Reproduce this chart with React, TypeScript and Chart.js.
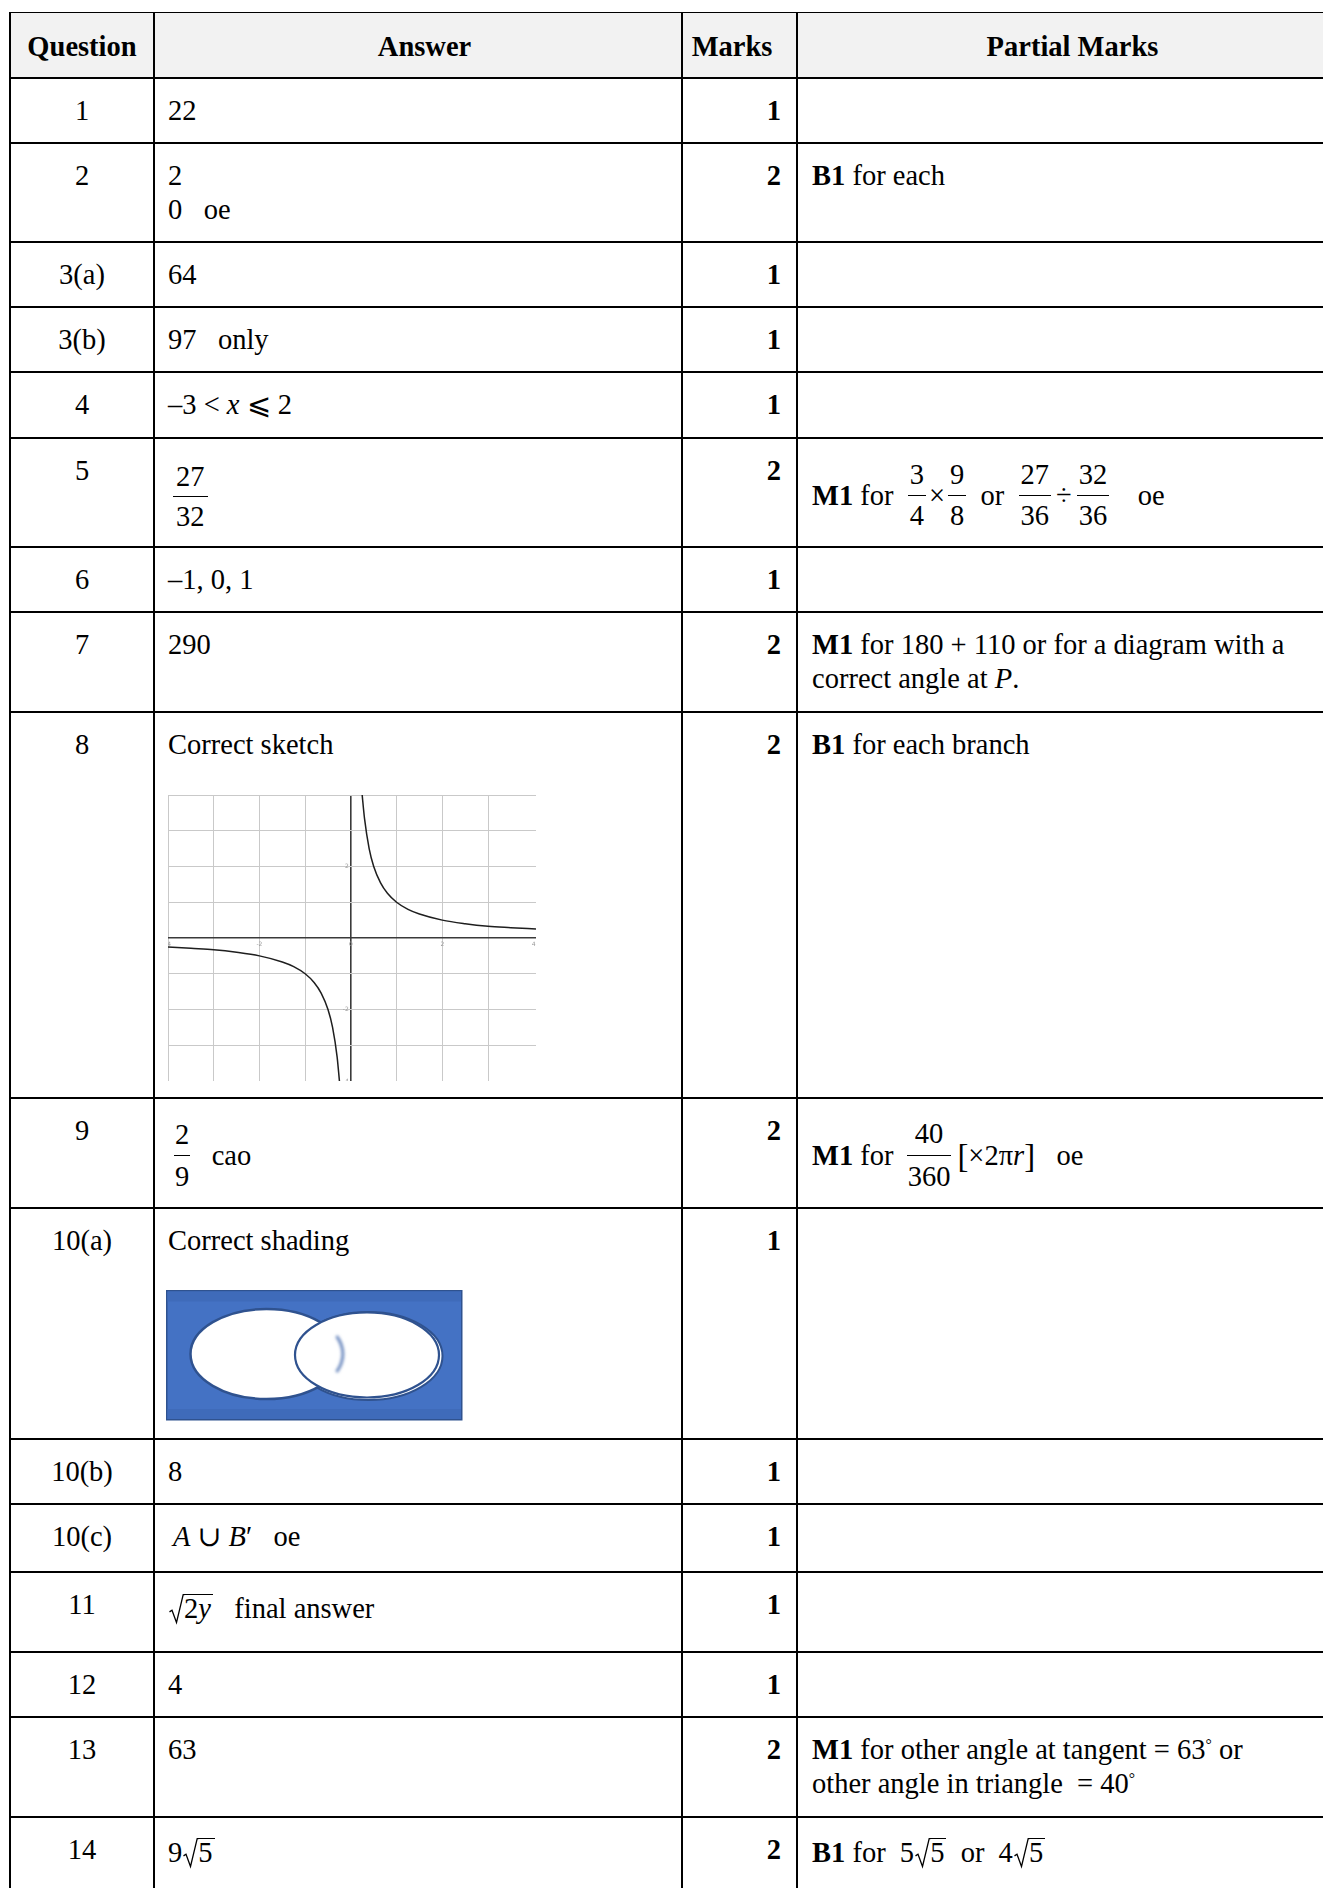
import React, { useEffect, useRef } from "react";
import { Chart, registerables } from "chart.js";

Chart.register(...registerables);

const FONT = '"Liberation Serif", "Times New Roman", "DejaVu Serif", serif';

// ---- table data ----
const headers = ["Question", "Answer", "Marks", "Partial Marks"];
const questions = ["1", "2", "3(a)", "3(b)", "4", "5", "6", "7", "8", "9", "10(a)", "10(b)", "10(c)", "11", "12", "13", "14"];
const marks = ["1", "2", "1", "1", "1", "2", "1", "2", "2", "2", "1", "1", "1", "1", "1", "2", "2"];

// ---- sketch (question 8) data ----
const rightBranchX = [0.24, 0.3, 0.4, 0.5, 0.65, 0.8, 1, 1.25, 1.5, 2, 2.5, 3, 3.5, 4.05];
const rightBranchY = [4.1, 3.33, 2.5, 2, 1.54, 1.25, 1, 0.8, 0.67, 0.5, 0.4, 0.33, 0.29, 0.25];
const leftBranchX = [-4, -3.5, -3, -2.5, -2, -1.5, -1.25, -1, -0.8, -0.65, -0.5, -0.4, -0.3, -0.25];
const leftBranchY = [-0.25, -0.29, -0.33, -0.4, -0.5, -0.67, -0.8, -1, -1.25, -1.54, -2, -2.5, -3.33, -4.0];
const xTickLabels = [-4, -2, 0, 2, 4];
const yTickLabels = [2, -2, -4];

// ---- layout ----
const ROW_LINES = [12, 77, 142, 241, 306, 371, 437, 546, 611, 711, 1097, 1207, 1438, 1503, 1571, 1651, 1716, 1816, 1940];
const COL_LINES = [9, 153, 681, 796, 1333];

function Frac({ n, d, lh = 38, pad = 2, inner = 2 }: any) {
  return (
    <span
      style={{
        display: "inline-flex",
        flexDirection: "column",
        alignItems: "center",
        verticalAlign: "middle",
        padding: `0 ${pad}px`,
      }}
    >
      <span style={{ lineHeight: lh + "px", padding: `0 ${inner}px` }}>{n}</span>
      <span style={{ alignSelf: "stretch", height: 1.4, background: "#000" }} />
      <span style={{ lineHeight: lh + "px", padding: `0 ${inner}px` }}>{d}</span>
    </span>
  );
}

function Sqrt({ children }: any) {
  return (
    <span
      style={{
        display: "inline-block",
        position: "relative",
        paddingLeft: 15,
        marginLeft: 1,
        lineHeight: "28px",
      }}
    >
      <svg
        width="15"
        style={{ position: "absolute", left: 0, top: 0, height: "100%", overflow: "visible" }}
        viewBox="0 0 15 30"
        preserveAspectRatio="none"
      >
        <path
          d="M0.5 18.5 L3 16.8 L7.5 29.5 L14.2 0.7 L15.5 0.7"
          fill="none"
          stroke="#000"
          strokeWidth="1.3"
          vectorEffect="non-scaling-stroke"
        />
      </svg>
      <span style={{ display: "inline-block", borderTop: "1.3px solid #000", paddingRight: 2, lineHeight: "28px" }}>
        {children}
      </span>
    </span>
  );
}

const Deg = () => (
  <span style={{ position: "relative", top: "-0.55em", fontSize: "0.55em", lineHeight: 0 }}>°</span>
);

const Op = ({ children, m = 3 }: any) => <span style={{ margin: `0 ${m}px` }}>{children}</span>;

const FlexRow = ({ children, mt = 0 }: any) => (
  <div style={{ display: "flex", alignItems: "center", whiteSpace: "pre", marginTop: mt }}>{children}</div>
);

const answers: any[] = [
  "22",
  <>
    2<br />
    {"0   oe"}
  </>,
  "64",
  "97   only",
  <>
    {"–3 < "}
    <i>x</i>
    {" ⩽ 2"}
  </>,
  <FlexRow mt={3}>
    <span style={{ width: 5 }} />
    <Frac n="27" d="32" lh={39} pad={0} inner={3} />
  </FlexRow>,
  "–1, 0, 1",
  "290",
  "Correct sketch",
  <FlexRow mt={0}>
    <span style={{ width: 6 }} />
    <Frac n="2" d="9" lh={41} pad={0} inner={1} />
    {"   cao"}
  </FlexRow>,
  "Correct shading",
  "8",
  <span style={{ paddingLeft: 5 }}>
    <i>A</i>
    {" ∪ "}
    <i>B</i>
    {"′   oe"}
  </span>,
  <span style={{ display: "inline-block", marginTop: 4 }}>
    <Sqrt>
      2<i>y</i>
    </Sqrt>
    {"   final answer"}
  </span>,
  "4",
  "63",
  <span style={{ display: "inline-block", marginTop: 3 }}>
    9<Sqrt>5</Sqrt>
  </span>,
];

const partials: any[] = [
  "",
  <>
    <b>B1</b>
    {" for each"}
  </>,
  "",
  "",
  "",
  <FlexRow mt={1}>
    <b>M1</b>
    {" for  "}
    <Frac n="3" d="4" lh={40} pad={0} inner={2} />
    <Op m={3}>×</Op>
    <Frac n="9" d="8" lh={40} pad={0} inner={2} />
    {"  or  "}
    <Frac n="27" d="36" lh={40} pad={0} inner={2} />
    <Op m={5}>÷</Op>
    <Frac n="32" d="36" lh={40} pad={0} inner={2} />
    {"    oe"}
  </FlexRow>,
  "",
  <>
    <b>M1</b>
    {" for 180 + 110 or for a diagram with a"}
    <br />
    {"correct angle at "}
    <i>P</i>.
  </>,
  <>
    <b>B1</b>
    {" for each branch"}
  </>,
  <FlexRow mt={-1}>
    <b>M1</b>
    {" for "}
    <Frac n="40" d="360" lh={42} pad={6} inner={1} />
    <span style={{ fontSize: "1.15em" }}>[</span>
    {"×2π"}
    <i>r</i>
    <span style={{ fontSize: "1.15em" }}>]</span>
    {"   oe"}
  </FlexRow>,
  "",
  "",
  "",
  "",
  "",
  <>
    <b>M1</b>
    {" for other angle at tangent = 63"}
    <Deg />
    {" or"}
    <br />
    {"other angle in triangle  = 40"}
    <Deg />
  </>,
  <span style={{ display: "inline-block", marginTop: 3 }}>
    <b>B1</b>
    {" for  5"}
    <Sqrt>5</Sqrt>
    {"  or  4"}
    <Sqrt>5</Sqrt>
  </span>,
];

function SketchChart() {
  const ref = useRef<HTMLCanvasElement | null>(null);
  useEffect(() => {
    if (!ref.current) return;
    const tickLabels = {
      id: "tinyTickLabels",
      afterDraw(chart: any) {
        const { ctx, scales } = chart;
        const xs = scales.x;
        const ys = scales.y;
        ctx.save();
        ctx.fillStyle = "#9a9a9a";
        ctx.font = "6px 'DejaVu Sans'";
        ctx.textAlign = "center";
        ctx.textBaseline = "top";
        const y0 = ys.getPixelForValue(0);
        const x0 = xs.getPixelForValue(0);
        xTickLabels.forEach((v) => {
          ctx.fillText(String(v), xs.getPixelForValue(v), y0 + 3);
        });
        ctx.textAlign = "right";
        ctx.textBaseline = "middle";
        yTickLabels.forEach((v) => {
          ctx.fillText(String(v), x0 - 2, ys.getPixelForValue(v));
        });
        ctx.restore();
      },
    };
    const gridColor = (c: any) => (c.tick && c.tick.value === 0 ? "#3a3a3a" : "#c9c9c9");
    const gridWidth = (c: any) => (c.tick && c.tick.value === 0 ? 1.6 : 1);
    const chart = new Chart(ref.current, {
      type: "scatter",
      data: {
        datasets: [
          {
            data: rightBranchX.map((x, i) => ({ x, y: rightBranchY[i] })),
            showLine: true,
            borderColor: "#1e1e1e",
            borderWidth: 1.5,
            pointRadius: 0,
            cubicInterpolationMode: "monotone",
            fill: false,
          },
          {
            data: leftBranchX.map((x, i) => ({ x, y: leftBranchY[i] })),
            showLine: true,
            borderColor: "#1e1e1e",
            borderWidth: 1.5,
            pointRadius: 0,
            cubicInterpolationMode: "monotone",
            fill: false,
          },
        ],
      },
      options: {
        animation: false,
        responsive: false,
        maintainAspectRatio: false,
        layout: { padding: 0 },
        plugins: { legend: { display: false }, tooltip: { enabled: false } },
        scales: {
          x: {
            type: "linear",
            min: -4,
            max: 4.05,
            ticks: { display: false, stepSize: 1 },
            grid: { color: gridColor, lineWidth: gridWidth, drawTicks: false },
            border: { display: false },
          },
          y: {
            type: "linear",
            min: -4,
            max: 4,
            ticks: { display: false, stepSize: 1 },
            grid: { color: gridColor, lineWidth: gridWidth, drawTicks: false },
            border: { display: false },
          },
        },
      } as any,
      plugins: [tickLabels],
    });
    return () => chart.destroy();
  }, []);
  return (
    <canvas
      ref={ref}
      width={368}
      height={286}
      style={{ position: "absolute", left: 167.5, top: 794.5, width: 368, height: 286 }}
    />
  );
}

function Venn() {
  const dark = "#2F528F";
  return (
    <svg
      width="297"
      height="131"
      viewBox="0 0 297 131"
      style={{ position: "absolute", left: 166, top: 1290 }}
    >
      <defs>
        <filter id="soft" x="-100%" y="-50%" width="300%" height="200%">
          <feGaussianBlur stdDeviation="1.6" />
        </filter>
      </defs>
      <rect x="0.75" y="0.75" width="295" height="129" fill="#4472C4" stroke={dark} strokeWidth="1.5" />
      <rect x="1.5" y="1.5" width="293.5" height="10" fill="#3f6bba" />
      <rect x="1.5" y="119" width="293.5" height="10" fill="#3f6bba" />
      <ellipse cx="202.5" cy="66" rx="74" ry="44" fill="#fff" stroke={dark} strokeWidth="2" />
      <ellipse cx="100.5" cy="64" rx="76" ry="45" fill="#fff" stroke={dark} strokeWidth="2.5" />
      <ellipse cx="201" cy="65" rx="72" ry="42.5" fill="#fff" stroke={dark} strokeWidth="2.2" />
      <path
        d="M170.5 46 A76 45 0 0 1 170.5 82"
        fill="none"
        stroke="#6f8cc0"
        strokeWidth="3"
        filter="url(#soft)"
      />
    </svg>
  );
}

export default function App() {
  const rowCount = ROW_LINES.length - 1;
  const cells: any[] = [];
  for (let r = 0; r < rowCount; r++) {
    const isHeader = r === 0;
    const top = ROW_LINES[r] + (isHeader ? 1 : 2);
    const height = ROW_LINES[r + 1] - top;
    for (let c = 0; c < 4; c++) {
      const left = COL_LINES[c] + 2;
      const width = COL_LINES[c + 1] - left;
      let content: any = null;
      if (isHeader) content = headers[c];
      else if (c === 0) content = questions[r - 1];
      else if (c === 1) content = answers[r - 1];
      else if (c === 2) content = marks[r - 1];
      else content = partials[r - 1];
      const align = isHeader || c === 0 ? "center" : c === 2 ? "right" : "left";
      const padL = c === 1 ? 13 : c === 3 ? 14 : 0;
      const padR = c === 2 ? 15 : 0;
      cells.push(
        <div
          key={r + "-" + c}
          style={{
            position: "absolute",
            left,
            top,
            width,
            height,
            boxSizing: "border-box",
            paddingTop: isHeader ? 17 : 15,
            paddingLeft: padL,
            paddingRight: padR,
            textAlign: align as any,
            fontWeight: isHeader || c === 2 ? 700 : 400,
            whiteSpace: "pre",
            lineHeight: "34px",
            overflow: "hidden",
          }}
        >
          {content}
        </div>
      );
    }
  }
  const hLines = ROW_LINES.slice(0, ROW_LINES.length - 1).map((y, i) => (
    <div
      key={"h" + i}
      style={{
        position: "absolute",
        left: COL_LINES[0],
        top: y,
        width: COL_LINES[4] - COL_LINES[0],
        height: i === 0 ? 1 : 2,
        background: "#000",
      }}
    />
  ));
  const vLines = COL_LINES.slice(0, 4).map((x, i) => (
    <div
      key={"v" + i}
      style={{ position: "absolute", left: x, top: ROW_LINES[0], width: 2, height: 1888, background: "#000" }}
    />
  ));
  return (
    <div
      style={{
        position: "absolute",
        left: 0,
        top: 0,
        width: 1323,
        height: 1888,
        overflow: "hidden",
        background: "#fff",
        fontFamily: FONT,
        fontSize: 28.5,
        color: "#000",
      }}
    >
      <div
        style={{
          position: "absolute",
          left: COL_LINES[0],
          top: ROW_LINES[0],
          width: COL_LINES[4] - COL_LINES[0],
          height: ROW_LINES[1] - ROW_LINES[0],
          background: "#f2f2f2",
        }}
      />
      {cells}
      {hLines}
      {vLines}
      <SketchChart />
      <Venn />
    </div>
  );
}
